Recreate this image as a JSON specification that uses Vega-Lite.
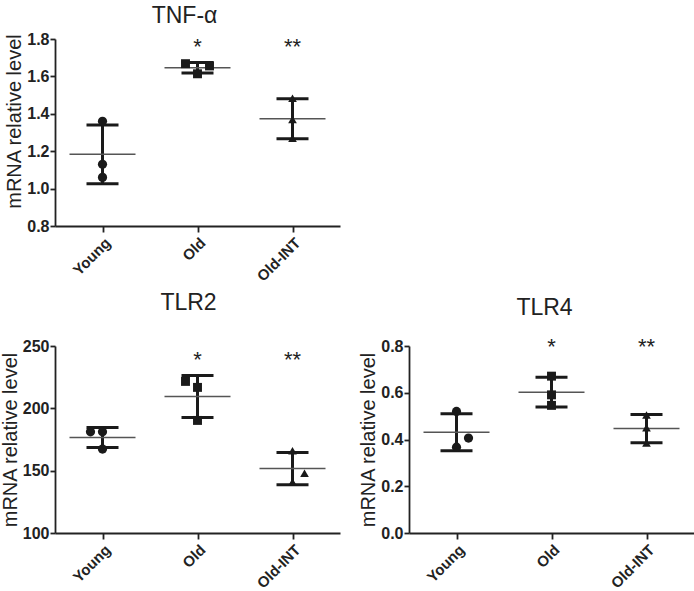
{
  "$schema": "https://vega.github.io/schema/vega-lite/v6.json",
  "background": "white",
  "padding": {"left": 0, "top": 5, "right": 0, "bottom": 0},
  "config": {
    "font": "Liberation Sans",
    "view": {"stroke": null},
    "axis": {"grid": false, "domainColor": "#222", "domainWidth": 1.8, "tickColor": "#222", "tickWidth": 1.8, "tickSize": 5, "labelColor": "#222", "labelFont": "Liberation Sans", "labelFontWeight": "bold", "titleFontWeight": "normal", "titleColor": "#222", "titleFont": "Liberation Sans"},
    "axisX": {"labelAngle": -45, "labelFontSize": 15, "title": null, "labelPadding": 3, "tickSize": 6},
    "axisY": {"labelFontSize": 16, "titleFontSize": 20, "labelPadding": 1, "titlePadding": 2},
    "title": {"fontSize": 23, "fontWeight": "normal", "color": "#222", "font": "Liberation Sans", "anchor": "middle", "frame": "group", "baseline": "alphabetic"}
  },
  "datasets": {
    "tnf": [
      {"group": "Young", "value": 1.36, "side": "center"},
      {"group": "Young", "value": 1.13, "side": "center"},
      {"group": "Young", "value": 1.06, "side": "center"},
      {"group": "Old", "value": 1.668, "side": "left"},
      {"group": "Old", "value": 1.614, "side": "center"},
      {"group": "Old", "value": 1.656, "side": "right"},
      {"group": "Old-INT", "value": 1.483, "side": "center"},
      {"group": "Old-INT", "value": 1.37, "side": "center"},
      {"group": "Old-INT", "value": 1.269, "side": "center"}
    ],
    "tlr2": [
      {"group": "Young", "value": 181.2, "side": "left"},
      {"group": "Young", "value": 181.2, "side": "center"},
      {"group": "Young", "value": 167.3, "side": "center"},
      {"group": "Old", "value": 221.6, "side": "left"},
      {"group": "Old", "value": 216.8, "side": "center"},
      {"group": "Old", "value": 190.3, "side": "center"},
      {"group": "Old-INT", "value": 166, "side": "center"},
      {"group": "Old-INT", "value": 148, "side": "right"},
      {"group": "Old-INT", "value": 141, "side": "center"}
    ],
    "tlr4": [
      {"group": "Young", "value": 0.52, "side": "center"},
      {"group": "Young", "value": 0.406, "side": "right"},
      {"group": "Young", "value": 0.367, "side": "center"},
      {"group": "Old", "value": 0.671, "side": "center"},
      {"group": "Old", "value": 0.591, "side": "center"},
      {"group": "Old", "value": 0.546, "side": "center"},
      {"group": "Old-INT", "value": 0.505, "side": "center"},
      {"group": "Old-INT", "value": 0.45, "side": "center"},
      {"group": "Old-INT", "value": 0.385, "side": "center"}
    ],
    "tnf_sig": [
      {"group": "Old", "value": 1.722, "label": "*"},
      {"group": "Old-INT", "value": 1.722, "label": "**"}
    ],
    "tlr2_sig": [
      {"group": "Old", "value": 233, "label": "*"},
      {"group": "Old-INT", "value": 233, "label": "**"}
    ],
    "tlr4_sig": [
      {"group": "Old", "value": 0.764, "label": "*"},
      {"group": "Old-INT", "value": 0.764, "label": "**"}
    ]
  },
  "columns": 2,
  "align": "all",
  "spacing": {"row": 8, "column": 18},
  "concat": [
    {
      "width": 285, "height": 187,
      "title": {"text": "TNF-α", "offset": 3, "dx": -13},
      "data": {"name": "tnf"},
      "encoding": {
        "x": {"field": "group", "type": "nominal", "scale": {"type": "point", "domain": ["Young", "Old", "Old-INT"], "padding": 0.5}},
        "y": {"field": "value", "type": "quantitative", "title": "mRNA relative level", "scale": {"domain": [0.8, 1.8], "nice": false, "zero": false}, "axis": {"values": [0.8, 1.0, 1.2, 1.4, 1.6, 1.8], "format": ".1f", "titleY": 82}}
      },
      "layer": [
        {"mark": {"type": "errorbar", "extent": "stdev", "thickness": 3, "color": "#1a1a1a", "ticks": {"size": 32, "thickness": 3, "color": "#1a1a1a", "opacity": 1}, "rule": {"strokeWidth": 3, "color": "#1a1a1a", "opacity": 1}}},
        {"mark": {"type": "tick", "orient": "horizontal", "size": 66, "thickness": 1.5, "color": "#555", "opacity": 1}, "encoding": {"y": {"aggregate": "mean", "field": "value", "type": "quantitative", "title": "mRNA relative level"}}},
        {"mark": {"type": "point", "filled": true, "opacity": 1, "color": "#1a1a1a"}, "encoding": {
          "shape": {"field": "group", "type": "nominal", "scale": {"domain": ["Young", "Old", "Old-INT"], "range": ["circle", "square", "triangle-up"]}, "legend": null},
          "size": {"field": "group", "type": "ordinal", "scale": {"domain": ["Young", "Old", "Old-INT"], "range": [85, 75, 55]}, "legend": null},
          "xOffset": {"field": "side", "type": "nominal", "scale": {"type": "point", "domain": ["left", "center", "right"], "range": [-12, 12], "padding": 0}}
        }},
        {"data": {"name": "tnf_sig"}, "mark": {"type": "text", "fontSize": 22, "baseline": "alphabetic", "color": "#222"}, "encoding": {"text": {"field": "label"}}}
      ]
    },
    {
      "width": 285, "height": 187,
      "data": {"values": []},
      "mark": "point",
      "encoding": {}
    },
    {
      "width": 285, "height": 187,
      "title": {"text": "TLR2", "offset": 23, "dx": -9},
      "data": {"name": "tlr2"},
      "encoding": {
        "x": {"field": "group", "type": "nominal", "scale": {"type": "point", "domain": ["Young", "Old", "Old-INT"], "padding": 0.5}},
        "y": {"field": "value", "type": "quantitative", "title": "mRNA relative level", "scale": {"domain": [100, 250], "nice": false, "zero": false}, "axis": {"values": [100, 150, 200, 250], "format": "d"}}
      },
      "layer": [
        {"mark": {"type": "errorbar", "extent": "stdev", "thickness": 3, "color": "#1a1a1a", "ticks": {"size": 32, "thickness": 3, "color": "#1a1a1a", "opacity": 1}, "rule": {"strokeWidth": 3, "color": "#1a1a1a", "opacity": 1}}},
        {"mark": {"type": "tick", "orient": "horizontal", "size": 66, "thickness": 1.5, "color": "#555", "opacity": 1}, "encoding": {"y": {"aggregate": "mean", "field": "value", "type": "quantitative", "title": "mRNA relative level"}}},
        {"mark": {"type": "point", "filled": true, "opacity": 1, "color": "#1a1a1a"}, "encoding": {
          "shape": {"field": "group", "type": "nominal", "scale": {"domain": ["Young", "Old", "Old-INT"], "range": ["circle", "square", "triangle-up"]}, "legend": null},
          "size": {"field": "group", "type": "ordinal", "scale": {"domain": ["Young", "Old", "Old-INT"], "range": [85, 75, 55]}, "legend": null},
          "xOffset": {"field": "side", "type": "nominal", "scale": {"type": "point", "domain": ["left", "center", "right"], "range": [-12, 12], "padding": 0}}
        }},
        {"data": {"name": "tlr2_sig"}, "mark": {"type": "text", "fontSize": 22, "baseline": "alphabetic", "color": "#222"}, "encoding": {"text": {"field": "label"}}}
      ]
    },
    {
      "width": 285, "height": 187,
      "title": {"text": "TLR4", "offset": 16, "dx": -7},
      "data": {"name": "tlr4"},
      "encoding": {
        "x": {"field": "group", "type": "nominal", "scale": {"type": "point", "domain": ["Young", "Old", "Old-INT"], "padding": 0.5}},
        "y": {"field": "value", "type": "quantitative", "title": "mRNA relative level", "scale": {"domain": [0, 0.8], "nice": false, "zero": false}, "axis": {"values": [0, 0.2, 0.4, 0.6, 0.8], "format": ".1f"}}
      },
      "layer": [
        {"mark": {"type": "errorbar", "extent": "stdev", "thickness": 3, "color": "#1a1a1a", "ticks": {"size": 32, "thickness": 3, "color": "#1a1a1a", "opacity": 1}, "rule": {"strokeWidth": 3, "color": "#1a1a1a", "opacity": 1}}},
        {"mark": {"type": "tick", "orient": "horizontal", "size": 66, "thickness": 1.5, "color": "#555", "opacity": 1}, "encoding": {"y": {"aggregate": "mean", "field": "value", "type": "quantitative", "title": "mRNA relative level"}}},
        {"mark": {"type": "point", "filled": true, "opacity": 1, "color": "#1a1a1a"}, "encoding": {
          "shape": {"field": "group", "type": "nominal", "scale": {"domain": ["Young", "Old", "Old-INT"], "range": ["circle", "square", "triangle-up"]}, "legend": null},
          "size": {"field": "group", "type": "ordinal", "scale": {"domain": ["Young", "Old", "Old-INT"], "range": [85, 75, 55]}, "legend": null},
          "xOffset": {"field": "side", "type": "nominal", "scale": {"type": "point", "domain": ["left", "center", "right"], "range": [-12, 12], "padding": 0}}
        }},
        {"data": {"name": "tlr4_sig"}, "mark": {"type": "text", "fontSize": 22, "baseline": "alphabetic", "color": "#222"}, "encoding": {"text": {"field": "label"}}}
      ]
    }
  ]
}
